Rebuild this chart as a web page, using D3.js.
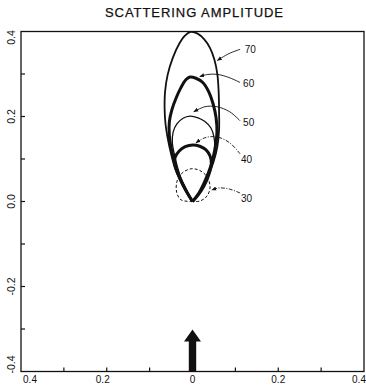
<!DOCTYPE html>
<html>
<head>
<meta charset="utf-8">
<script src="https://cdn.jsdelivr.net/npm/d3@7"></script>
<style>
  body { margin: 0; background: #fff; }
  text { font-family: "Liberation Sans", Arial, sans-serif; fill: #111; }
</style>
</head>
<body>
<svg id="chart" width="366" height="389"></svg>
<script>
var width = 366, height = 389;
var margin = {top: 31.5, right: 2, bottom: 17.5, left: 21};

var title = "SCATTERING AMPLITUDE";

var x_ticks = [-0.3, -0.2, -0.1, 0, 0.1, 0.2, 0.3];
var y_ticks = [-0.3, -0.2, -0.1, 0, 0.1, 0.2, 0.3];
var x_labels = [[-0.4, "0.4"], [-0.2, "0.2"], [0, "0"], [0.2, "0.2"], [0.4, "0.4"]];
var y_labels = [[0.4, "0.4"], [0.2, "0.2"], [0, "0.0"], [-0.2, "-0.2"], [-0.4, "-0.4"]];

// curves, origin -> left side -> top -> right side -> origin
var curve_70 = [[0,0],[-0.015,0.025],[-0.029,0.051],[-0.041,0.079],[-0.050,0.112],[-0.058,0.150],
  [-0.063,0.183],[-0.065,0.216],[-0.064,0.258],[-0.058,0.298],[-0.046,0.338],[-0.030,0.373],
  [-0.017,0.391],[-0.004,0.399],[0.012,0.395],[0.027,0.382],[0.041,0.361],[0.051,0.334],
  [0.058,0.299],[0.061,0.258],[0.062,0.211],[0.062,0.169],[0.058,0.129],
  [0.049,0.093],[0.036,0.060],[0.020,0.027],[0,0]];
var curve_60 = [[0,0],[-0.015,0.025],[-0.028,0.051],[-0.038,0.079],[-0.048,0.117],[-0.054,0.155],
  [-0.054,0.188],[-0.048,0.216],[-0.038,0.244],[-0.027,0.268],[-0.015,0.287],[-0.006,0.293],
  [0.008,0.290],[0.024,0.280],[0.038,0.258],[0.048,0.230],[0.055,0.197],[0.057,0.162],
  [0.052,0.122],[0.043,0.084],[0.029,0.048],[0.015,0.020],[0,0]];
var curve_50 = [[0,0],[-0.014,0.027],[-0.026,0.053],[-0.035,0.081],[-0.042,0.110],[-0.047,0.138],
  [-0.045,0.164],[-0.036,0.183],[-0.022,0.196],[-0.006,0.201],[0.013,0.197],[0.029,0.188],
  [0.043,0.173],[0.050,0.152],[0.052,0.126],[0.047,0.093],[0.035,0.060],[0.019,0.027],[0,0]];
var curve_40 = [[0,0],[-0.013,0.022],[-0.024,0.044],[-0.034,0.065],[-0.041,0.086],[-0.041,0.103],
  [-0.031,0.119],[-0.017,0.129],[0.001,0.133],[0.017,0.130],[0.031,0.122],[0.041,0.107],
  [0.044,0.088],[0.038,0.063],[0.027,0.037],[0.013,0.015],[0,0]];
var curve_30 = [[0,0],[-0.027,0.004],[-0.037,0.022],[-0.036,0.048],[-0.024,0.067],[-0.003,0.077],
  [0.017,0.073],[0.034,0.058],[0.041,0.034],[0.034,0.013],[0.017,0.001],[0,0]];

var curve_names = ["70", "60", "50", "40", "30"];
var curve_points = [curve_70, curve_60, curve_50, curve_40, curve_30];
var curve_widths = [1.8, 3, 1.3, 3, 1];
var curve_dash = [null, null, null, null, "3,2"];

var label_pos = [[0.122,0.358],[0.118,0.277],[0.118,0.185],[0.113,0.100],[0.113,0.008]];
var leaders = [
  [[0.111,0.358],[0.085,0.348],[0.058,0.332]],
  [[0.111,0.280],[0.087,0.291],[0.059,0.299],[0.036,0.299],[0.017,0.294]],
  [[0.111,0.190],[0.087,0.211],[0.057,0.223],[0.029,0.223],[0.003,0.211]],
  [[0.111,0.112],[0.087,0.138],[0.057,0.152],[0.029,0.150],[0.008,0.138]],
  [[0.111,0.020],[0.087,0.029],[0.064,0.032],[0.045,0.027]]
];
var leader_dash = [null, null, null, "4,1.5,1,1.5", "4,1.5,1,1.5"];

// incident beam arrow
var beam = [[0, -0.4], [0, -0.301]];

var svg = d3.select("#chart");

var xScale = d3.scaleLinear().domain([-0.4, 0.4]).range([margin.left, width - margin.right]);
var yScale = d3.scaleLinear().domain([-0.4, 0.4]).range([height - margin.bottom, margin.top]);

svg.append("defs").append("marker")
    .attr("id", "head")
    .attr("viewBox", "0 0 10 10")
    .attr("refX", 9).attr("refY", 5)
    .attr("markerWidth", 5).attr("markerHeight", 5)
    .attr("markerUnits", "userSpaceOnUse")
    .attr("orient", "auto")
  .append("path")
    .attr("d", "M0,1 L10,5 L0,9 Z")
    .attr("fill", "#111");

svg.append("text")
    .attr("x", 194)
    .attr("y", 17)
    .attr("text-anchor", "middle")
    .attr("font-size", 13)
    .attr("stroke", "#111")
    .attr("stroke-width", 0.25)
    .attr("textLength", 178)
    .attr("lengthAdjust", "spacing")
    .text(title);

// frame
svg.append("rect")
    .attr("x", xScale(-0.4))
    .attr("y", yScale(0.4))
    .attr("width", xScale(0.4) - xScale(-0.4))
    .attr("height", yScale(-0.4) - yScale(0.4))
    .attr("fill", "none")
    .attr("stroke", "#111")
    .attr("stroke-width", 1.3);

svg.selectAll(".ytick")
    .data(y_ticks)
  .enter().append("line")
    .attr("class", "ytick")
    .attr("x1", xScale(-0.4)).attr("x2", xScale(-0.4) + 4)
    .attr("y1", function(d) { return yScale(d); })
    .attr("y2", function(d) { return yScale(d); })
    .attr("stroke", "#111").attr("stroke-width", 1.2);

svg.selectAll(".xtick")
    .data(x_ticks)
  .enter().append("line")
    .attr("class", "xtick")
    .attr("x1", function(d) { return xScale(d); })
    .attr("x2", function(d) { return xScale(d); })
    .attr("y1", yScale(-0.4)).attr("y2", yScale(-0.4) - 4)
    .attr("stroke", "#111").attr("stroke-width", 1.2);

svg.selectAll(".xlab")
    .data(x_labels)
  .enter().append("text")
    .attr("class", "xlab")
    .attr("x", function(d) {
      var px = xScale(d[0]);
      if (d[0] == -0.4) return px + 9;
      if (d[0] == 0.4) return px - 5;
      if (d[0] == -0.2) return px - 4;
      return px;
    })
    .attr("y", 383)
    .attr("text-anchor", "middle")
    .attr("font-size", 10)
    .text(function(d) { return d[1]; });

svg.selectAll(".ylab")
    .data(y_labels)
  .enter().append("text")
    .attr("class", "ylab")
    .attr("transform", function(d) {
      var py = yScale(d[0]);
      if (d[0] == 0.4) py += 6;
      if (d[0] == -0.4) py -= 7;
      return "translate(14.5," + py + ") rotate(-90)";
    })
    .attr("text-anchor", "middle")
    .attr("font-size", 10.5)
    .text(function(d) { return d[1]; });

var line = d3.line()
    .x(function(d) { return xScale(d[0]); })
    .y(function(d) { return yScale(d[1]); })
    .curve(d3.curveCatmullRom.alpha(0.5));

svg.selectAll(".amp")
    .data(curve_points)
  .enter().append("path")
    .attr("class", "amp")
    .attr("d", line)
    .attr("fill", "none")
    .attr("stroke", "#111")
    .attr("stroke-linejoin", "round")
    .attr("stroke-width", function(d, i) { return curve_widths[i]; })
    .attr("stroke-dasharray", function(d, i) { return curve_dash[i]; });

svg.selectAll(".leader")
    .data(leaders)
  .enter().append("path")
    .attr("class", "leader")
    .attr("d", line)
    .attr("fill", "none")
    .attr("stroke", "#111")
    .attr("stroke-width", 0.9)
    .attr("stroke-dasharray", function(d, i) { return leader_dash[i]; })
    .attr("marker-end", "url(#head)");

svg.selectAll(".clabel")
    .data(curve_names)
  .enter().append("text")
    .attr("class", "clabel")
    .attr("x", function(d, i) { return xScale(label_pos[i][0]); })
    .attr("y", function(d, i) { return yScale(label_pos[i][1]) + 3.5; })
    .attr("font-size", 10)
    .text(function(d) { return d; });

// beam arrow
var bx = xScale(beam[0][0]);
var by0 = yScale(beam[0][1]);
var by1 = yScale(beam[1][1]);
svg.append("path")
    .attr("d", "M" + (bx - 3.7) + "," + by0 +
               " L" + (bx - 3.7) + "," + (by1 + 12) +
               " L" + (bx - 8.5) + "," + (by1 + 12) +
               " L" + bx + "," + by1 +
               " L" + (bx + 8.5) + "," + (by1 + 12) +
               " L" + (bx + 3.7) + "," + (by1 + 12) +
               " L" + (bx + 3.7) + "," + by0 + " Z")
    .attr("fill", "#111");
</script>
</body>
</html>
